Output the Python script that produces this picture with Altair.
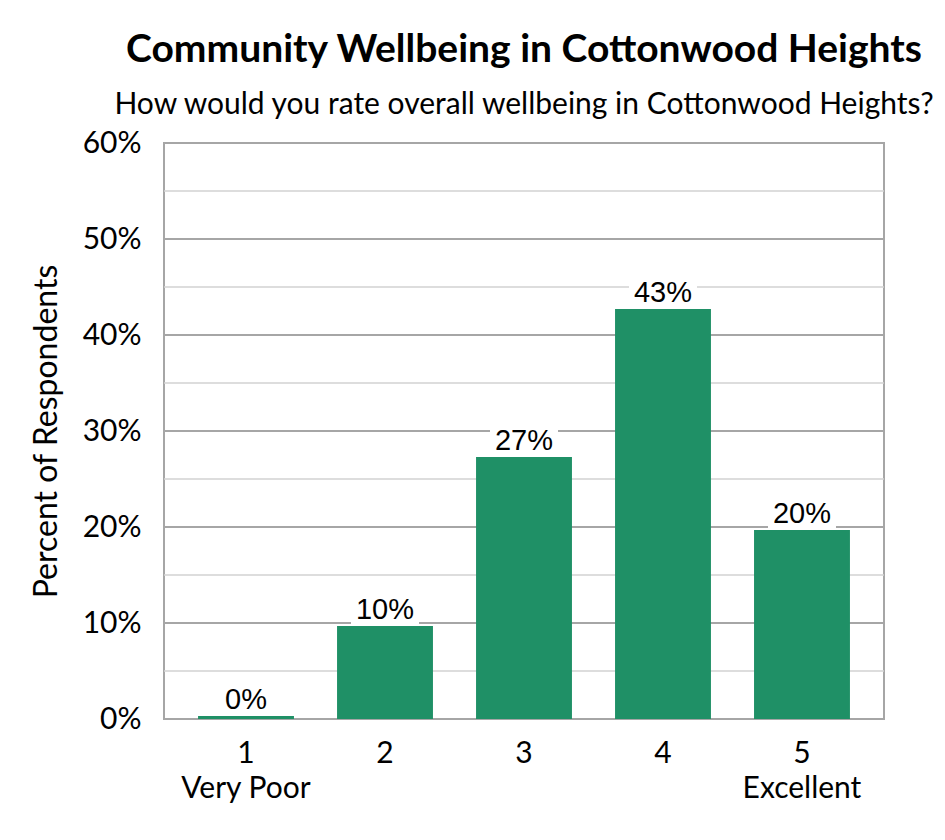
import altair as alt
import pandas as pd

# survey results, percent of respondents per rating
ratings = ["1", "2", "3", "4", "5"]
rating_names = ["Very Poor", "", "", "", "Excellent"]
percents = [0.3, 9.7, 27.3, 42.7, 19.7]

major_ticks = [0, 10, 20, 30, 40, 50, 60]
minor_ticks = [5, 15, 25, 35, 45, 55]

GREEN = "#1f9066"
GRID_MAJOR = "#a6a6a6"
GRID_MINOR = "#d2d2d2"
FONT = "Lato"

df = pd.DataFrame(
    {
        "rating": [f"{r}|{n}" if n else r for r, n in zip(ratings, rating_names)],
        "pct": percents,
    }
)
grid_df = pd.DataFrame(
    {
        "tick": major_ticks + minor_ticks,
        "kind": ["major"] * len(major_ticks) + ["minor"] * len(minor_ticks),
    }
)

x_enc = alt.X(
    "rating:N",
    sort=None,
    scale=alt.Scale(paddingInner=0.31, paddingOuter=0.245),
    axis=alt.Axis(
        title=None,
        labelExpr="split(datum.label, '|')",
        labelAngle=0,
        labelFont=FONT,
        labelFontSize=30,
        labelColor="black",
        labelPadding=19,
        labelLineHeight=35,
        ticks=False,
        domain=False,
    ),
)
y_scale = alt.Scale(domain=[0, 60], nice=False)
y_axis = alt.Axis(
    values=major_ticks,
    labelExpr="datum.value + '%'",
    labelFont=FONT,
    labelFontSize=30,
    labelColor="black",
    labelPadding=23,
    ticks=False,
    domain=False,
    grid=False,
    title="Percent of Respondents",
    titleFont=FONT,
    titleFontSize=32,
    titleFontWeight="normal",
    titleColor="black",
    titlePadding=19,
)

grid = (
    alt.Chart(grid_df)
    .mark_rule()
    .encode(
        y=alt.Y("tick:Q", scale=y_scale, axis=y_axis),
        color=alt.Color(
            "kind:N",
            scale=alt.Scale(domain=["major", "minor"], range=[GRID_MAJOR, GRID_MINOR]),
            legend=None,
        ),
        strokeWidth=alt.StrokeWidth(
            "kind:N",
            scale=alt.Scale(domain=["major", "minor"], range=[2, 1.3]),
            legend=None,
        ),
    )
)

base = alt.Chart(df).transform_calculate(
    label="format(datum.pct, '.0f') + '%'", box_top="datum.pct + 3"
)

bars = base.mark_bar(color=GREEN).encode(
    x=x_enc,
    y=alt.Y("pct:Q", scale=y_scale),
)

boxes = base.mark_bar(color="white", width=68).encode(
    x=alt.X("rating:N", sort=None),
    y=alt.Y("pct:Q", scale=y_scale),
    y2="box_top:Q",
)

labels = base.mark_text(
    baseline="bottom", dy=-1, font="Liberation Sans", fontSize=29, color="black"
).encode(
    x=alt.X("rating:N", sort=None),
    y=alt.Y("pct:Q", scale=y_scale),
    text="label:N",
)

chart = (
    alt.layer(grid, bars, boxes, labels)
    .properties(
        width=720,
        height=576,
        autosize=alt.AutoSizeParams(type="none"),
        padding={"left": 156, "top": 135, "right": 53, "bottom": 100},
        title=alt.TitleParams(
            "Community Wellbeing in Cottonwood Heights",
            subtitle="How would you rate overall wellbeing in Cottonwood Heights?",
            font=FONT,
            fontSize=39,
            fontWeight="bold",
            color="black",
            subtitleFont=FONT,
            subtitleFontSize=30,
            subtitleColor="black",
            subtitlePadding=20,
            anchor="middle",
            offset=8,
        ),
    )
    .configure_view(stroke=GRID_MAJOR, strokeWidth=2)
)

chart.save("out.html", embed_options={"renderer": "svg", "actions": False})
